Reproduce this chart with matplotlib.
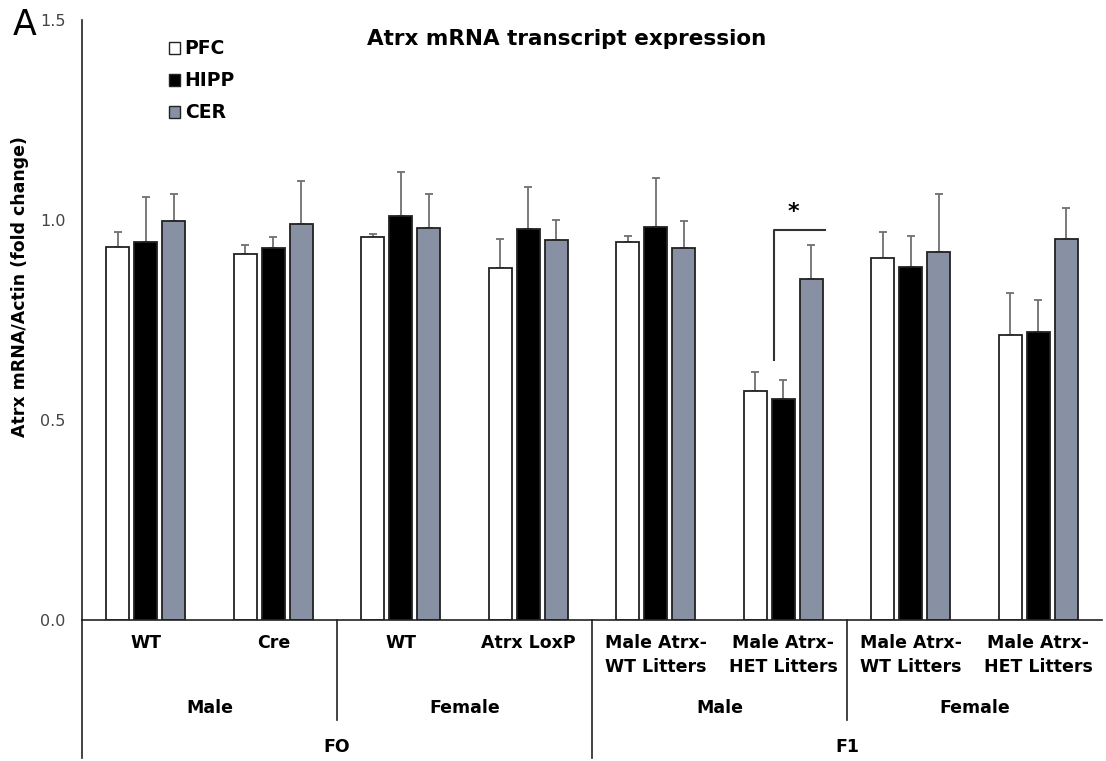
import matplotlib.pyplot as plt
import numpy as np
from matplotlib.patches import Patch

# data
groups = ['WT', 'Cre', 'WT', 'Atrx LoxP',
          'Male Atrx-\nWT Litters', 'Male Atrx-\nHET Litters',
          'Male Atrx-\nWT Litters', 'Male Atrx-\nHET Litters']
sex_labels = ['Male', 'Female', 'Male', 'Female']
gen_labels = ['FO', 'F1']
regions = ['PFC', 'HIPP', 'CER']

pfc = [0.933, 0.914, 0.958, 0.880, 0.946, 0.573, 0.906, 0.713]
pfc_err = [0.037, 0.024, 0.007, 0.073, 0.014, 0.047, 0.063, 0.105]
hipp = [0.946, 0.930, 1.010, 0.978, 0.983, 0.553, 0.882, 0.720]
hipp_err = [0.112, 0.028, 0.110, 0.104, 0.123, 0.047, 0.079, 0.080]
cer = [0.998, 0.990, 0.980, 0.950, 0.929, 0.853, 0.921, 0.953]
cer_err = [0.068, 0.108, 0.086, 0.050, 0.069, 0.085, 0.145, 0.076]

colors = ['white', 'black', '#8891a3']

if __name__ == '__main__':
    fig = plt.figure(figsize=(11.06, 7.61), dpi=100)
    W, H = 1106, 761
    ax = fig.add_axes([82 / W, (H - 620) / H, 1020 / W, 600 / H])

    x = np.arange(len(groups))
    width = 0.18
    offs = [-0.22, 0.0, 0.22]
    for vals, errs, c, off, lab in zip([pfc, hipp, cer], [pfc_err, hipp_err, cer_err],
                                       colors, offs, regions):
        ax.bar(x + off, vals, width, color=c, edgecolor='#222222', linewidth=1.3,
               label=lab, zorder=2)
        ax.errorbar(x + off, vals, yerr=[np.zeros(len(errs)), errs], fmt='none',
                    ecolor='#707070', elinewidth=1.3, capsize=3, capthick=1.3, zorder=1)

    ax.set_xlim(-0.5, 7.5)
    ax.set_ylim(0, 1.5)
    ax.set_yticks([0, 0.5, 1.0, 1.5])
    ax.set_yticklabels(['0.0', '0.5', '1.0', '1.5'])
    ax.tick_params(axis='y', length=0, pad=12, labelsize=11.5, labelcolor='#444444')
    ax.set_xticks([])
    for s in ['top', 'right']:
        ax.spines[s].set_visible(False)
    ax.spines['left'].set_linewidth(1.2)
    ax.spines['bottom'].set_linewidth(1.2)
    ax.spines['left'].set_color('#222222')
    ax.spines['bottom'].set_color('#222222')

    ax.set_ylabel('Atrx mRNA/Actin (fold change)', fontsize=12.5, fontweight='bold')
    ax.yaxis.set_label_coords(-0.052, 0.555)
    ax.set_title('Atrx mRNA transcript expression', fontsize=15.5, fontweight='bold',
                 pad=-18, y=1.0, x=0.475)

    # hierarchical category axis
    tr = ax.get_xaxis_transform()
    ax.plot([-0.5, -0.5], [0, -0.23], transform=tr, color='#222222', lw=1.2, clip_on=False)
    ax.plot([3.5, 3.5], [0, -0.23], transform=tr, color='#222222', lw=1.2, clip_on=False)
    for xs in [1.5, 5.5]:
        ax.plot([xs, xs], [0, -0.167], transform=tr, color='#222222', lw=1.2, clip_on=False)
    for xi, g in zip(x, groups):
        ax.text(xi, -0.024, g, transform=tr, ha='center', va='top', fontsize=12.5,
                fontweight='bold', linespacing=1.4)
    for i, s in enumerate(sex_labels):
        ax.text(2 * i + 0.5, -0.147, s, transform=tr, ha='center', va='center',
                fontsize=12.5, fontweight='bold')
    for i, g in enumerate(gen_labels):
        ax.text(4 * i + 1.5, -0.212, g, transform=tr, ha='center', va='center',
                fontsize=12.5, fontweight='bold')

    # significance bracket
    ax.plot([4.93, 4.93, 5.33], [0.65, 0.975, 0.975], color='#333333', lw=1.5)
    ax.text(5.08, 1.02, '*', ha='center', va='center', fontsize=16, fontweight='bold')

    # legend
    handles = [Patch(facecolor=c, edgecolor='#222222', linewidth=1.0) for c in colors]
    ax.legend(handles, regions, loc='upper left', bbox_to_anchor=(0.085, 0.968),
              frameon=False, prop={'weight': 'bold', 'size': 13.5},
              handlelength=0.6, handleheight=0.6, handletextpad=0.25,
              labelspacing=0.7, borderpad=0, borderaxespad=0)

    fig.text(13 / W, (H - 35) / H, 'A', fontsize=25)

    fig.savefig('out.png', dpi=100)
